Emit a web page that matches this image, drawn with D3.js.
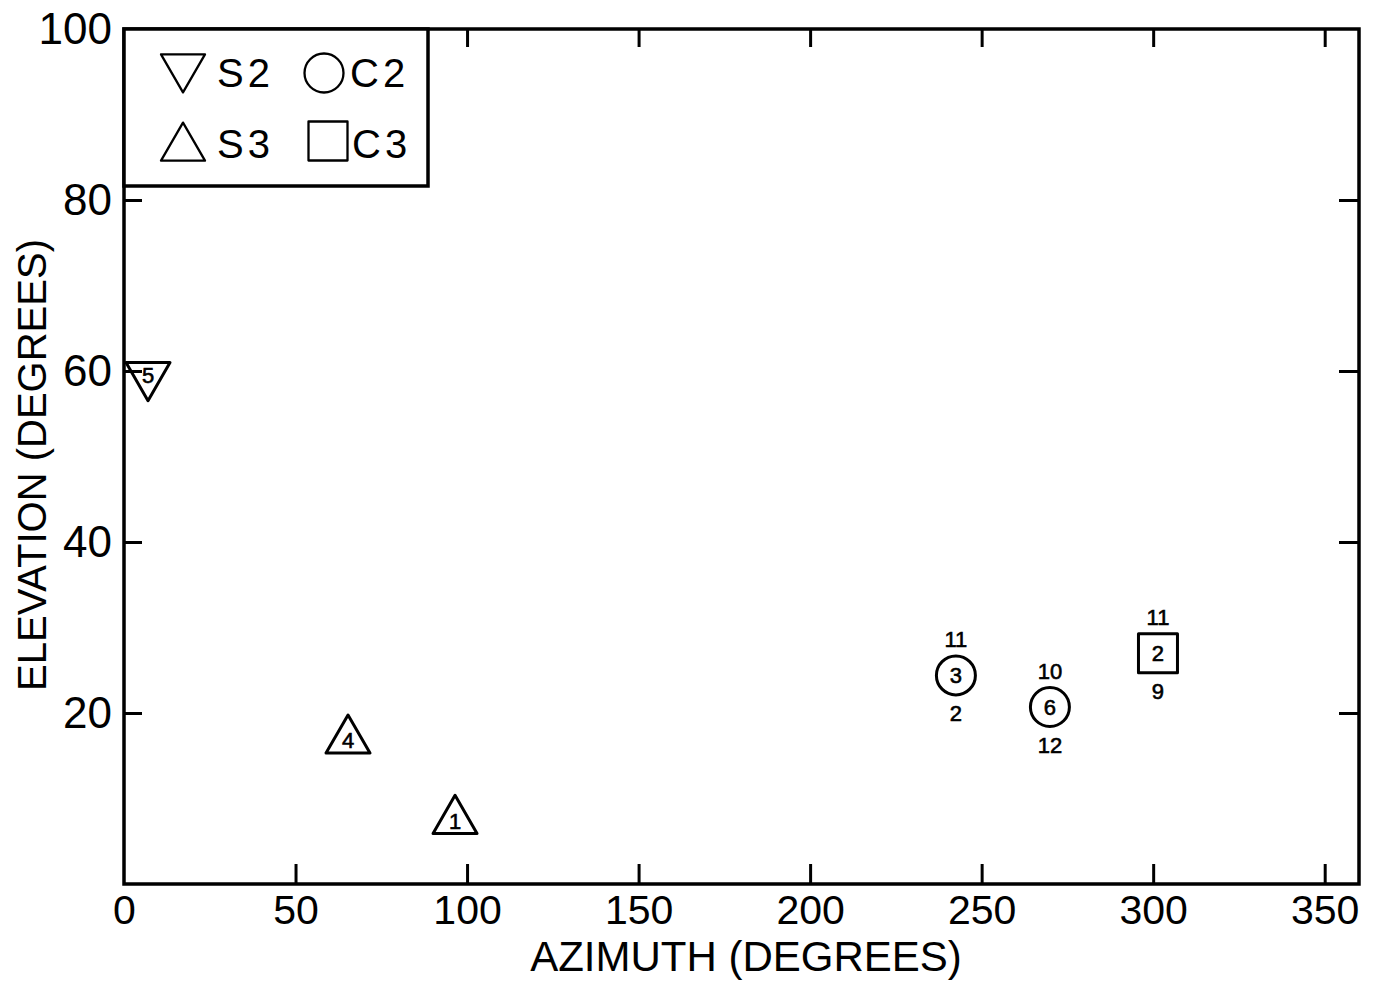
<!DOCTYPE html>
<html>
<head>
<meta charset="utf-8">
<script src="https://cdn.jsdelivr.net/npm/d3@7/dist/d3.min.js"></script>
<style>
  html, body { margin: 0; padding: 0; background: #fff; }
  svg { display: block; }
  text { font-family: "Liberation Sans", Arial, Helvetica, sans-serif; fill: #000; }
</style>
</head>
<body>
<svg id="chart" width="1379" height="981"></svg>
<script>
// ---- data ----
const xTicks = [0, 50, 100, 150, 200, 250, 300, 350];
const yTicks = [20, 40, 60, 80, 100];
const seriesNames = ["S2", "C2", "S3", "C3"];
const azimuth   = [7.0, 65.3, 96.5, 242.5, 269.9, 301.4];
const elevation = [59.5, 16.8, 7.4, 24.4, 20.7, 27.0];
const pointSeries = ["S2", "S3", "S3", "C2", "C2", "C3"];
const innerLabel = ["5", "4", "1", "3", "6", "2"];
const aboveLabel = ["", "", "", "11", "10", "11"];
const belowLabel = ["", "", "", "2", "12", "9"];
const xTitle = "AZIMUTH (DEGREES)";
const yTitle = "ELEVATION (DEGREES)";

// ---- layout ----
const svg = d3.select("#chart");
const L = 124, R = 1359, T = 29, B = 884;
const x = d3.scaleLinear().domain([0, 360]).range([L, R]);
const y = d3.scaleLinear().domain([0, 100]).range([B, T]);

const symbolOf = {
  S2: { type: d3.symbolTriangle, size: 838, rot: 180 },
  S3: { type: d3.symbolTriangle, size: 838, rot: 0 },
  C2: { type: d3.symbolCircle, size: Math.PI * 19.5 * 19.5, rot: 0 },
  C3: { type: d3.symbolSquare, size: 39 * 39, rot: 0 }
};
function symPath(name) {
  const s = symbolOf[name];
  return d3.symbol().type(s.type).size(s.size)();
}

// ---- axes ----
const axisStyle = (fs) => g => {
  g.select(".domain").remove();
  g.selectAll(".tick line").attr("stroke", "#000").attr("stroke-width", 3);
  g.selectAll(".tick text").attr("font-size", fs).attr("fill", "#000");
};

svg.append("g").attr("transform", `translate(0,${B})`)
  .call(d3.axisBottom(x).tickValues(xTicks).tickSize(-20).tickPadding(11).tickFormat(d3.format("d")))
  .call(axisStyle(41))
  .call(g => g.selectAll(".tick").filter(d => d === 0).select("line").remove());

svg.append("g").attr("transform", `translate(0,${T})`)
  .call(d3.axisTop(x).tickValues(xTicks.filter(d => d > 0)).tickSize(-18).tickFormat(""))
  .call(axisStyle(40));

svg.append("g").attr("transform", `translate(${L},0)`)
  .call(d3.axisLeft(y).tickValues(yTicks).tickSize(-18).tickPadding(12).tickFormat(d3.format("d")))
  .call(axisStyle(44))
  .call(g => g.selectAll(".tick").filter(d => d === 100).select("line").remove());

svg.append("g").attr("transform", `translate(${R},0)`)
  .call(d3.axisRight(y).tickValues(yTicks.filter(d => d < 100)).tickSize(-20).tickFormat(""))
  .call(axisStyle(40));

// frame
svg.append("rect")
  .attr("x", L).attr("y", T).attr("width", R - L).attr("height", B - T)
  .attr("fill", "none").attr("stroke", "#000").attr("stroke-width", 3.5);

// axis titles
svg.append("text")
  .attr("x", 746).attr("y", 971)
  .attr("text-anchor", "middle").attr("font-size", 42)
  .text(xTitle);

svg.append("text")
  .attr("transform", `translate(46,${465}) rotate(-90)`)
  .attr("text-anchor", "middle").attr("font-size", 40)
  .text(yTitle);

// ---- points ----
const pts = azimuth.map((a, i) => ({
  a, e: elevation[i], s: pointSeries[i],
  inner: innerLabel[i], above: aboveLabel[i], below: belowLabel[i]
}));

const pg = svg.append("g").selectAll("g").data(pts).join("g")
  .attr("transform", d => `translate(${x(d.a)},${y(d.e)})`);

pg.append("path")
  .attr("d", d => symPath(d.s))
  .attr("transform", d => `rotate(${symbolOf[d.s].rot})`)
  .attr("fill", "none").attr("stroke", "#000").attr("stroke-width", 3)
  .attr("stroke-linejoin", "round");

const numStyle = sel => sel
  .attr("text-anchor", "middle").attr("dy", "0.36em")
  .attr("font-size", 22).attr("stroke", "#000").attr("stroke-width", 0.6);

pg.append("text").call(numStyle).text(d => d.inner);
pg.append("text").call(numStyle).attr("y", -36).text(d => d.above);
pg.append("text").call(numStyle).attr("y", 38).text(d => d.below);

// ---- legend ----
const lg = svg.append("g");
lg.append("rect")
  .attr("x", L).attr("y", T).attr("width", 304).attr("height", 157)
  .attr("fill", "#fff").attr("stroke", "#000").attr("stroke-width", 3.5);

const legendPos = [
  { s: "S2", sx: 183, sy: 67, tx: 217, ty: 87 },
  { s: "C2", sx: 324, sy: 73, tx: 350, ty: 87 },
  { s: "S3", sx: 183, sy: 148, tx: 217, ty: 158 },
  { s: "C3", sx: 328, sy: 141, tx: 352, ty: 158 }
];
const li = lg.selectAll("g").data(seriesNames.map((n, i) => Object.assign({ name: n }, legendPos[i])))
  .join("g");
li.append("path")
  .attr("transform", d => `translate(${d.sx},${d.sy}) rotate(${symbolOf[d.s].rot})`)
  .attr("d", d => symPath(d.s))
  .attr("fill", "none").attr("stroke", "#000").attr("stroke-width", 2.3)
  .attr("stroke-linejoin", "round");
li.append("text")
  .attr("x", d => d.tx).attr("y", d => d.ty)
  .attr("font-size", 40).attr("letter-spacing", 4)
  .text(d => d.name);
</script>
</body>
</html>
